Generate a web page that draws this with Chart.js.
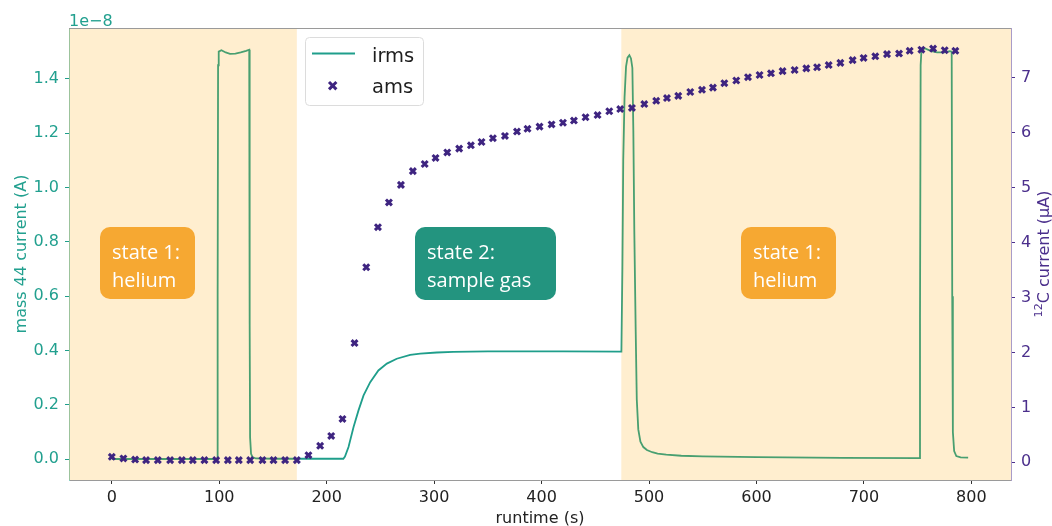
<!DOCTYPE html>
<html><head><meta charset="utf-8">
<script src="https://cdn.jsdelivr.net/npm/chart.js@4.4.1/dist/chart.umd.min.js"></script>
<style>html,body{margin:0;padding:0;background:#fff;overflow:hidden}</style>
</head><body>
<canvas id="c" width="1052" height="526"></canvas>
<script>
// ---- data ----
// irms: runtime (s) and mass 44 current in units of 1e-8 A
const irmsTime = [0, 98.0, 98.5, 98.9, 99.5, 102, 106, 110, 115, 120, 125, 127.9, 128.3, 128.7, 129.6, 131, 134, 150, 215.5, 217, 220.3, 225, 229.6, 234.3, 240.5, 248.1, 256, 265.2, 277.7, 287, 302.5, 317.7, 350, 420, 474.3, 475.2, 476, 477.2, 478.6, 480, 481.7, 483.2, 484.5, 485.4, 486.3, 487.6, 488.6, 490, 492, 494.7, 498, 503, 508, 516, 530, 550, 600, 680, 751.6, 752.2, 752.8, 753.6, 757, 762, 768, 775, 780, 781.7, 782.2, 782.8, 784, 786, 790, 797];
const irmsCurrent = [0.001, 0.001, 0.6, 1.45, 1.500, 1.505, 1.497, 1.492, 1.493, 1.497, 1.503, 1.507, 0.5, 0.08, 0.02, 0.008, 0.003, 0.002, 0.002, 0.01, 0.045, 0.119, 0.18, 0.235, 0.284, 0.327, 0.352, 0.37, 0.384, 0.389, 0.393, 0.395, 0.397, 0.397, 0.396, 0.7, 1.1, 1.33, 1.445, 1.478, 1.487, 1.475, 1.44, 1.21, 0.84, 0.47, 0.22, 0.11, 0.065, 0.045, 0.034, 0.026, 0.021, 0.017, 0.013, 0.011, 0.008, 0.005, 0.004, 0.5, 1.45, 1.507, 1.512, 1.503, 1.497, 1.497, 1.502, 1.500, 0.6, 0.1, 0.03, 0.012, 0.007, 0.006];
// ams: runtime (s) and 12C current (uA)
const amsTime = [0.0, 10.8, 21.7, 31.9, 42.8, 54.3, 65.2, 75.4, 86.2, 97.1, 108.0, 118.2, 128.8, 140.2, 150.5, 161.3, 172.2, 183.0, 193.9, 204.2, 214.7, 225.9, 236.8, 247.7, 257.9, 269.1, 280.2, 291.2, 301.3, 312.2, 323.3, 334.2, 344.1, 354.7, 365.9, 377.1, 386.9, 398.1, 409.3, 419.9, 430.1, 440.9, 452.1, 463.0, 473.2, 484.1, 495.6, 506.7, 516.7, 527.2, 538.4, 549.3, 559.5, 570.1, 581.2, 592.1, 602.9, 613.5, 624.3, 635.5, 646.4, 656.4, 667.2, 678.1, 689.5, 699.7, 710.6, 721.5, 732.7, 742.6, 753.5, 764.4, 775.2, 785.1];
const amsCurrent = [0.10, 0.07, 0.05, 0.04, 0.04, 0.04, 0.04, 0.04, 0.04, 0.04, 0.04, 0.04, 0.04, 0.04, 0.04, 0.04, 0.04, 0.13, 0.30, 0.48, 0.79, 2.17, 3.55, 4.28, 4.73, 5.05, 5.30, 5.43, 5.54, 5.64, 5.71, 5.77, 5.83, 5.90, 5.94, 6.02, 6.07, 6.11, 6.15, 6.18, 6.22, 6.28, 6.32, 6.39, 6.43, 6.45, 6.52, 6.58, 6.63, 6.67, 6.74, 6.78, 6.82, 6.90, 6.95, 7.01, 7.05, 7.08, 7.12, 7.14, 7.17, 7.19, 7.23, 7.27, 7.32, 7.36, 7.39, 7.43, 7.44, 7.49, 7.51, 7.53, 7.50, 7.49];
// tick labels
const xTicks = [0, 100, 200, 300, 400, 500, 600, 700, 800];
const leftTicks = [0.0, 0.2, 0.4, 0.6, 0.8, 1.0, 1.2, 1.4];
const rightTicks = [0, 1, 2, 3, 4, 5, 6, 7];
// helium (state 1) time spans, s
const heliumSpans = [[-40, 172.2], [474.2, 837]];
const stateTexts = [['state 1:', 'helium'], ['state 2:', 'sample gas'], ['state 1:', 'helium']];
const seriesNames = ['irms', 'ams'];

// ---- styling ----
const TEAL = '#1f9e8b';
const TEAL_TXT = '#22a08f';
const PURPLE = '#3e2480';
const PURPLE_TXT = '#4b2f8c';
const ORANGE_BOX = '#f6a832';
const TEAL_BOX = '#23947f';
const TICKFONT = {family: 'DejaVu Sans', size: 16};

const shadePlugin = {
  id: 'shade',
  afterDatasetDraw(chart, args) {
    if (args.index !== 0) return;
    const {ctx, chartArea: a, scales: {x}} = chart;
    ctx.save();
    ctx.beginPath(); ctx.rect(a.left, a.top, a.right - a.left, a.bottom - a.top); ctx.clip();
    ctx.fillStyle = 'rgba(255,165,0,0.19)';
    heliumSpans.forEach(([s, e]) => {
      const x0 = x.getPixelForValue(s), x1 = x.getPixelForValue(e);
      ctx.fillRect(x0, a.top, x1 - x0, a.bottom - a.top);
    });
    ctx.restore();
  }
};

function rrect(ctx, x, y, w, h, r) {
  ctx.beginPath();
  ctx.moveTo(x + r, y);
  ctx.arcTo(x + w, y, x + w, y + h, r);
  ctx.arcTo(x + w, y + h, x, y + h, r);
  ctx.arcTo(x, y + h, x, y, r);
  ctx.arcTo(x, y, x + w, y, r);
  ctx.closePath();
}

const decorPlugin = {
  id: 'decor',
  afterDraw(chart) {
    const {ctx, chartArea: a} = chart;
    ctx.save();
    // top spine
    ctx.strokeStyle = '#9a9a9a'; ctx.lineWidth = 1;
    ctx.beginPath(); ctx.moveTo(a.left, a.top + 0.5); ctx.lineTo(a.right, a.top + 0.5); ctx.stroke();

    // offset text
    ctx.fillStyle = TEAL_TXT; ctx.font = '16px "DejaVu Sans"';
    ctx.textAlign = 'left'; ctx.textBaseline = 'alphabetic';
    ctx.fillText('1e\u22128', a.left, 26);

    // x title
    ctx.fillStyle = '#222'; ctx.textAlign = 'center';
    ctx.fillText('runtime (s)', (a.left + a.right) / 2, 523);

    // left title
    const cy = (a.top + a.bottom) / 2;
    ctx.save();
    ctx.translate(25.5, cy); ctx.rotate(-Math.PI / 2);
    ctx.fillStyle = TEAL_TXT; ctx.textAlign = 'center';
    ctx.fillText('mass 44 current (A)', 0, 0);
    ctx.restore();

    // right title with superscript
    ctx.save();
    ctx.translate(1048.5, cy); ctx.rotate(-Math.PI / 2);
    ctx.fillStyle = PURPLE_TXT; ctx.textAlign = 'left';
    ctx.font = '11.2px "DejaVu Sans"';
    const sup = '12'; const wSup = ctx.measureText(sup).width;
    ctx.font = '16px "DejaVu Sans"';
    const main = 'C current (\u03bcA)'; const wMain = ctx.measureText(main).width;
    const x0 = -(wSup + wMain) / 2;
    ctx.font = '11.2px "DejaVu Sans"';
    ctx.fillText(sup, x0, -6.6);
    ctx.font = '16px "DejaVu Sans"';
    ctx.fillText(main, x0 + wSup, 0);
    ctx.restore();

    // legend
    ctx.fillStyle = 'rgba(255,255,255,0.85)';
    ctx.strokeStyle = '#dcdcdc'; ctx.lineWidth = 1;
    rrect(ctx, 305.5, 37.5, 118, 68, 4); ctx.fill(); ctx.stroke();
    ctx.strokeStyle = TEAL; ctx.lineWidth = 2;
    ctx.beginPath(); ctx.moveTo(312, 53.5); ctx.lineTo(355, 53.5); ctx.stroke();
    ctx.strokeStyle = PURPLE; ctx.lineWidth = 3;
    ctx.beginPath();
    ctx.moveTo(329, 82); ctx.lineTo(336.4, 89.4);
    ctx.moveTo(336.4, 82); ctx.lineTo(329, 89.4);
    ctx.stroke();
    ctx.fillStyle = '#1e1e1e'; ctx.font = '19.5px "DejaVu Sans"'; ctx.textAlign = 'left';
    ctx.fillText(seriesNames[0], 372, 61.5);
    ctx.fillText(seriesNames[1], 372, 92.5);

    // state boxes
    const boxes = [
      {x: 100, y: 227, w: 95, h: 72, c: ORANGE_BOX},
      {x: 415, y: 227, w: 141, h: 73, c: TEAL_BOX},
      {x: 741, y: 227, w: 95, h: 72, c: ORANGE_BOX}
    ];
    ctx.font = '20px "Open Sans"';
    boxes.forEach((b, i) => {
      ctx.fillStyle = b.c;
      rrect(ctx, b.x, b.y, b.w, b.h, 10); ctx.fill();
      ctx.fillStyle = '#ffffff';
      ctx.fillText(stateTexts[i][0], b.x + 12, b.y + 32);
      ctx.fillText(stateTexts[i][1], b.x + 12, b.y + 59.5);
    });
    ctx.restore();
  }
};

new Chart(document.getElementById('c').getContext('2d'), {
  type: 'scatter',
  data: {
    datasets: [
      {
        label: seriesNames[0],
        data: irmsTime.map((t, i) => ({x: t, y: irmsCurrent[i]})),
        showLine: true, borderColor: TEAL, borderWidth: 1.8, pointRadius: 0,
        tension: 0, yAxisID: 'y', order: 1
      },
      {
        label: seriesNames[1],
        data: amsTime.map((t, i) => ({x: t, y: amsCurrent[i]})),
        showLine: false, pointStyle: 'crossRot', pointRadius: 4.2, borderWidth: 3,
        borderColor: PURPLE, backgroundColor: PURPLE, yAxisID: 'y2', order: 0
      }
    ]
  },
  options: {
    responsive: false, animation: false, events: [],
    layout: {padding: {top: 28, left: 0, right: 0, bottom: 0}},
    plugins: {legend: {display: false}, tooltip: {enabled: false}},
    scales: {
      x: {
        type: 'linear', position: 'bottom', min: -39.85, max: 836.9,
        afterFit(s) { s.height = 46; },
        afterBuildTicks(s) { s.ticks = xTicks.map(v => ({value: v})); },
        ticks: {color: '#222', font: TICKFONT, padding: 4, maxRotation: 0, autoSkip: false, callback: v => String(v)},
        grid: {drawOnChartArea: false, drawTicks: true, tickLength: 4, color: '#333'},
        border: {color: '#9a9a9a', width: 1}
      },
      y: {
        type: 'linear', position: 'left', min: -0.0762, max: 1.587,
        afterFit(s) { s.width = 69; },
        afterBuildTicks(s) { s.ticks = leftTicks.map(v => ({value: v})); },
        ticks: {color: TEAL_TXT, font: TICKFONT, padding: 6, autoSkip: false, callback: v => Number(v).toFixed(1)},
        grid: {drawOnChartArea: false, drawTicks: true, tickLength: 4, color: TEAL},
        border: {color: '#86cbc1', width: 1}
      },
      y2: {
        type: 'linear', position: 'right', min: -0.322, max: 7.905,
        afterFit(s) { s.width = 41; },
        afterBuildTicks(s) { s.ticks = rightTicks.map(v => ({value: v})); },
        ticks: {color: PURPLE_TXT, font: TICKFONT, padding: 6, autoSkip: false, callback: v => String(v)},
        grid: {drawOnChartArea: false, drawTicks: true, tickLength: 4, color: PURPLE_TXT},
        border: {color: '#a99cc9', width: 1}
      }
    }
  },
  plugins: [shadePlugin, decorPlugin]
});
</script>
</body></html>
